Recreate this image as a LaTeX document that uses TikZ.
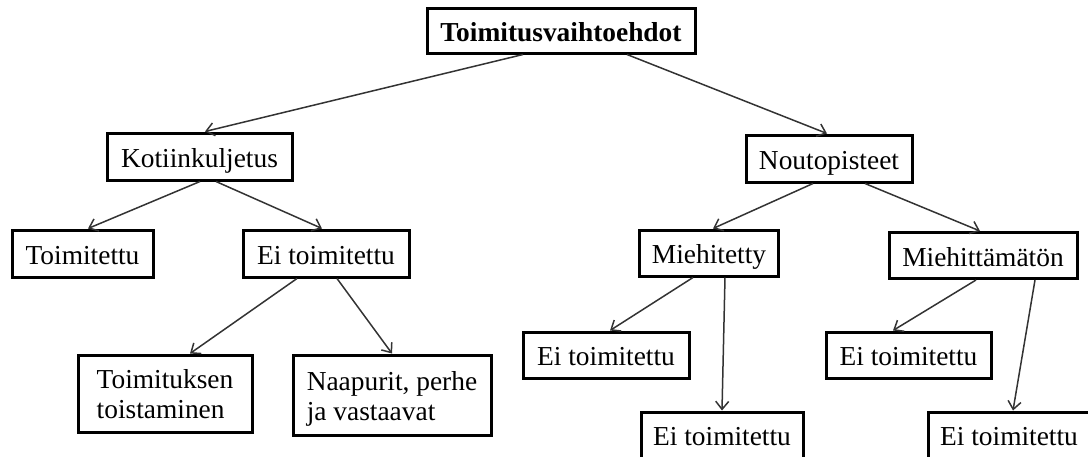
\documentclass[tikz,border=0pt]{standalone}
\usepackage{fontspec}
\setmainfont{Liberation Serif}
\usetikzlibrary{arrows.meta}
\newcommand{\topstrut}{\rule{0pt}{26pt}}
\newcommand{\botstrut}{\rule[-6pt]{0pt}{6pt}}
\tikzset{
  boxbase/.style={draw=black, line width=3pt, fill=white, inner sep=0pt, font=\fontsize{27.4}{30}\selectfont},
  box/.style={boxbase, minimum height=46pt, text height=26pt, text depth=5pt},
  tbox/.style={boxbase, align=left},
  arr/.style={draw=black!80, line width=1.5pt, -{Straight Barb[length=8pt,width=13pt,line width=1.5pt]}}
}
\begin{document}
\begin{tikzpicture}[x=1pt,y=-1pt]
\useasboundingbox (0,0) rectangle (1088,456);
\node[box, minimum width=268pt, minimum height=45pt] (top) at (561,30.5) {\textbf{Toimitusvaihtoehdot}};
\node[box, minimum width=185pt, minimum height=47pt] (koti) at (199.5,156.5) {Kotiinkuljetus};
\node[box, minimum width=166pt, minimum height=47pt] (nouto) at (829,158.5) {Noutopisteet};
\node[box, minimum width=141pt, minimum height=47pt] (toim) at (82.5,253.5) {Toimitettu};
\node[box, minimum width=166pt, minimum height=47pt] (eitL) at (326,253.5) {Ei toimitettu};
\node[tbox, minimum width=174pt, minimum height=77pt] (toist) at (165,393.5) {\topstrut Toimituksen\\toistaminen\botstrut};
\node[tbox, minimum width=198pt, minimum height=80pt] (naap) at (392,395) {\topstrut Naapurit, perhe\\ja vastaavat\botstrut};
\node[box, minimum width=139pt] (mieh) at (709,253) {Miehitetty};
\node[box, minimum width=188pt] (miehm) at (983,255.5) {Miehittämätön};
\node[box, minimum width=166pt] (e1) at (606,355) {Ei toimitettu};
\node[box, minimum width=165pt] (e2) at (908.5,355) {Ei toimitettu};
\node[box, minimum width=162pt] (e3) at (722,435) {Ei toimitettu};
\node[box, minimum width=162pt] (e4) at (1009,435) {Ei toimitettu};

\draw[arr] ([xshift=-38pt]top.south) -- ([xshift=5.5pt]koti.north);
\draw[arr] ([xshift=66pt]top.south) -- ([xshift=-2pt]nouto.north);
\draw[arr] ([xshift=0.5pt]koti.south) -- ([xshift=5.5pt]toim.north);
\draw[arr] ([xshift=16.5pt]koti.south) -- ([xshift=-4pt]eitL.north);
\draw[arr] ([xshift=-29pt]eitL.south) -- ([xshift=25pt]toist.north);
\draw[arr] ([xshift=11pt]eitL.south) -- ([xshift=0pt]naap.north);
\draw[arr] ([xshift=-16pt]nouto.south) -- ([xshift=4pt]mieh.north);
\draw[arr] ([xshift=36pt]nouto.south) -- ([xshift=-3pt]miehm.north);
\draw[arr] ([xshift=-16pt]mieh.south) -- ([xshift=4pt]e1.north);
\draw[arr] ([xshift=16pt]mieh.south) -- ([xshift=0pt]e3.north);
\draw[arr] ([xshift=-7pt]miehm.south) -- ([xshift=-15.5pt]e2.north);
\draw[arr] ([xshift=52pt]miehm.south) -- ([xshift=4pt]e4.north);
\end{tikzpicture}
\end{document}
